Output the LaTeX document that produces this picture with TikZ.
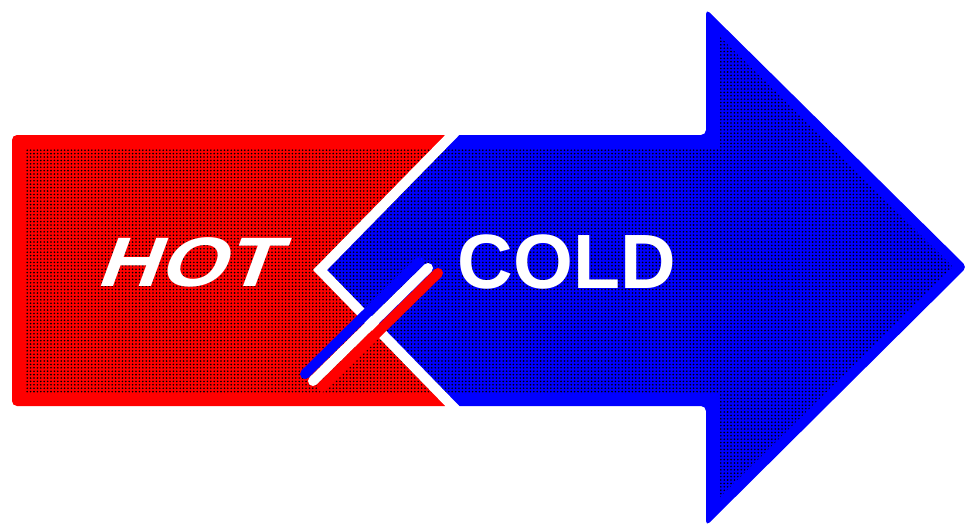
\documentclass[tikz,border=0pt]{standalone}
\usepackage{fontspec}
\setmainfont{Liberation Sans}
\usetikzlibrary{patterns}
\pgfdeclarepatternformonly{dotgrid}{\pgfqpoint{-1.2pt}{-1.2pt}}{\pgfqpoint{2.2pt}{2.2pt}}{\pgfqpoint{3.4pt}{3.4pt}}{\pgfpathcircle{\pgfqpoint{0pt}{0pt}}{0.9pt}\pgfusepath{fill}}
\definecolor{hotred}{RGB}{255,0,0}
\definecolor{coldblue}{RGB}{0,0,255}
\tikzset{
  dotfill/.style={pattern=dotgrid, pattern color=black},
  whitebar/.style={draw=white, line width=10pt},
  crossbar/.style={line width=10pt, line cap=round},
  labeltext/.style={text=white, inner sep=0pt}
}
\begin{document}
\begin{tikzpicture}[x=1pt,y=-1pt]
\useasboundingbox (0,0) rectangle (968,531);
% red (hot) block
\fill[hotred, rounded corners=5pt] (12,135) rectangle (450,406);
\fill[dotfill] (25,149) rectangle (450,392);
% blue (cold) arrow
\fill[coldblue, rounded corners=5pt] (452,135) -- (706,135) -- (706,9) -- (967,267) -- (706,526) -- (706,406) -- (452,406) -- (320,270) -- cycle;
\fill[dotfill] (439,148) -- (720,148) -- (720,37) -- (953,267) -- (720,497) -- (720,393) -- (439,393) -- (320,270) -- cycle;
% white chevron boundary
\draw[whitebar, line join=miter] (462,125) -- (320,270) -- (462,416);
% crossing bar with coloured shadows
\draw[crossbar, coldblue] (305,374) -- (420,261);
\draw[crossbar, hotred] (322,387) -- (438,273);
\draw[crossbar, white] (313,381) -- (428,268);
% labels
\node[labeltext, anchor=base, xscale=1.22, xslant=0.3] (hot) at (186,286) {\fontsize{70}{70}\selectfont\bfseries HOT};
\node[labeltext, anchor=base] (cold) at (567,288) {\fontsize{77}{77}\selectfont\bfseries COLD};
\end{tikzpicture}
\end{document}
